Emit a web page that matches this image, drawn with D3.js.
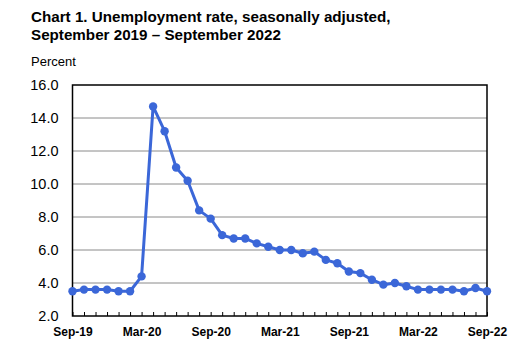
<!DOCTYPE html>
<html><head><meta charset="utf-8">
<script src="https://d3js.org/d3.v7.min.js"></script>
<style>body{margin:0;background:#fff}svg{display:block}</style>
</head><body><svg id="c" width="517" height="344"></svg>
<script>
const months = ["Sep-19","Oct-19","Nov-19","Dec-19","Jan-20","Feb-20","Mar-20","Apr-20","May-20","Jun-20","Jul-20","Aug-20","Sep-20","Oct-20","Nov-20","Dec-20","Jan-21","Feb-21","Mar-21","Apr-21","May-21","Jun-21","Jul-21","Aug-21","Sep-21","Oct-21","Nov-21","Dec-21","Jan-22","Feb-22","Mar-22","Apr-22","May-22","Jun-22","Jul-22","Aug-22","Sep-22"];
const rates = [3.5,3.6,3.6,3.6,3.5,3.5,4.4,14.7,13.2,11.0,10.2,8.4,7.9,6.9,6.7,6.7,6.4,6.2,6.0,6.0,5.8,5.9,5.4,5.2,4.7,4.6,4.2,3.9,4.0,3.8,3.6,3.6,3.6,3.6,3.5,3.7,3.5];
const xLabels = ["Sep-19","Mar-20","Sep-20","Mar-21","Sep-21","Mar-22","Sep-22"];
const yTicks = [2,4,6,8,10,12,14,16];

const svg = d3.select("#c");
const L = 72.5, R = 487, T = 85, B = 316;
const x = d3.scalePoint().domain(months).range([L, R]);
const y = d3.scaleLinear().domain([2, 16]).range([B, T]);
const font = "Liberation Sans, Arial, sans-serif";

svg.append("text").attr("x", 31).attr("y", 22).attr("font-family", font).attr("font-weight", "bold").attr("font-size", 15.2).attr("fill", "#000").text("Chart 1. Unemployment rate, seasonally adjusted,");
svg.append("text").attr("x", 31).attr("y", 40).attr("font-family", font).attr("font-weight", "bold").attr("font-size", 15.2).attr("fill", "#000").text("September 2019 \u2013 September 2022");
svg.append("text").attr("x", 31).attr("y", 66).attr("font-family", font).attr("font-size", 13).attr("fill", "#000").text("Percent");

// gridlines
svg.append("g").selectAll("line").data(yTicks.filter(d => d > 2 && d < 16)).join("line")
  .attr("x1", L).attr("x2", R).attr("y1", d => y(d)).attr("y2", d => y(d))
  .attr("stroke", "#8a8a8a").attr("stroke-width", 1);

// y axis labels
const ya = svg.append("g").attr("transform", `translate(${L},0)`)
  .call(d3.axisLeft(y).tickValues(yTicks).tickFormat(d3.format(".1f")).tickSize(0).tickPadding(14));
ya.select(".domain").remove();
ya.selectAll("text").attr("font-family", font).attr("font-size", 14.5).attr("fill", "#000");

// x axis ticks (inside, monthly)
const xa = svg.append("g").attr("transform", `translate(0,${B})`)
  .call(d3.axisTop(x).tickSize(4).tickFormat(""));
xa.select(".domain").remove();
xa.selectAll("line").attr("stroke", "#000");
const xl = svg.append("g").attr("transform", `translate(0,${B})`)
  .call(d3.axisBottom(x).tickValues(xLabels).tickSize(0).tickPadding(11));
xl.select(".domain").remove();
xl.selectAll("text").attr("font-family", font).attr("font-weight", "bold").attr("font-size", 12).attr("fill", "#000");

// frame
svg.append("rect").attr("x", L).attr("y", T).attr("width", R - L).attr("height", B - T)
  .attr("fill", "none").attr("stroke", "#000").attr("stroke-width", 1.5);

const color = "#3b67d8";
const line = d3.line().x((d, i) => x(months[i])).y(d => y(d));
svg.append("path").datum(rates).attr("d", line).attr("fill", "none").attr("stroke", color).attr("stroke-width", 3).attr("stroke-linejoin", "round");
svg.append("g").selectAll("circle").data(rates).join("circle")
  .attr("cx", (d, i) => x(months[i])).attr("cy", d => y(d)).attr("r", 4.2).attr("fill", color);
</script></body></html>
